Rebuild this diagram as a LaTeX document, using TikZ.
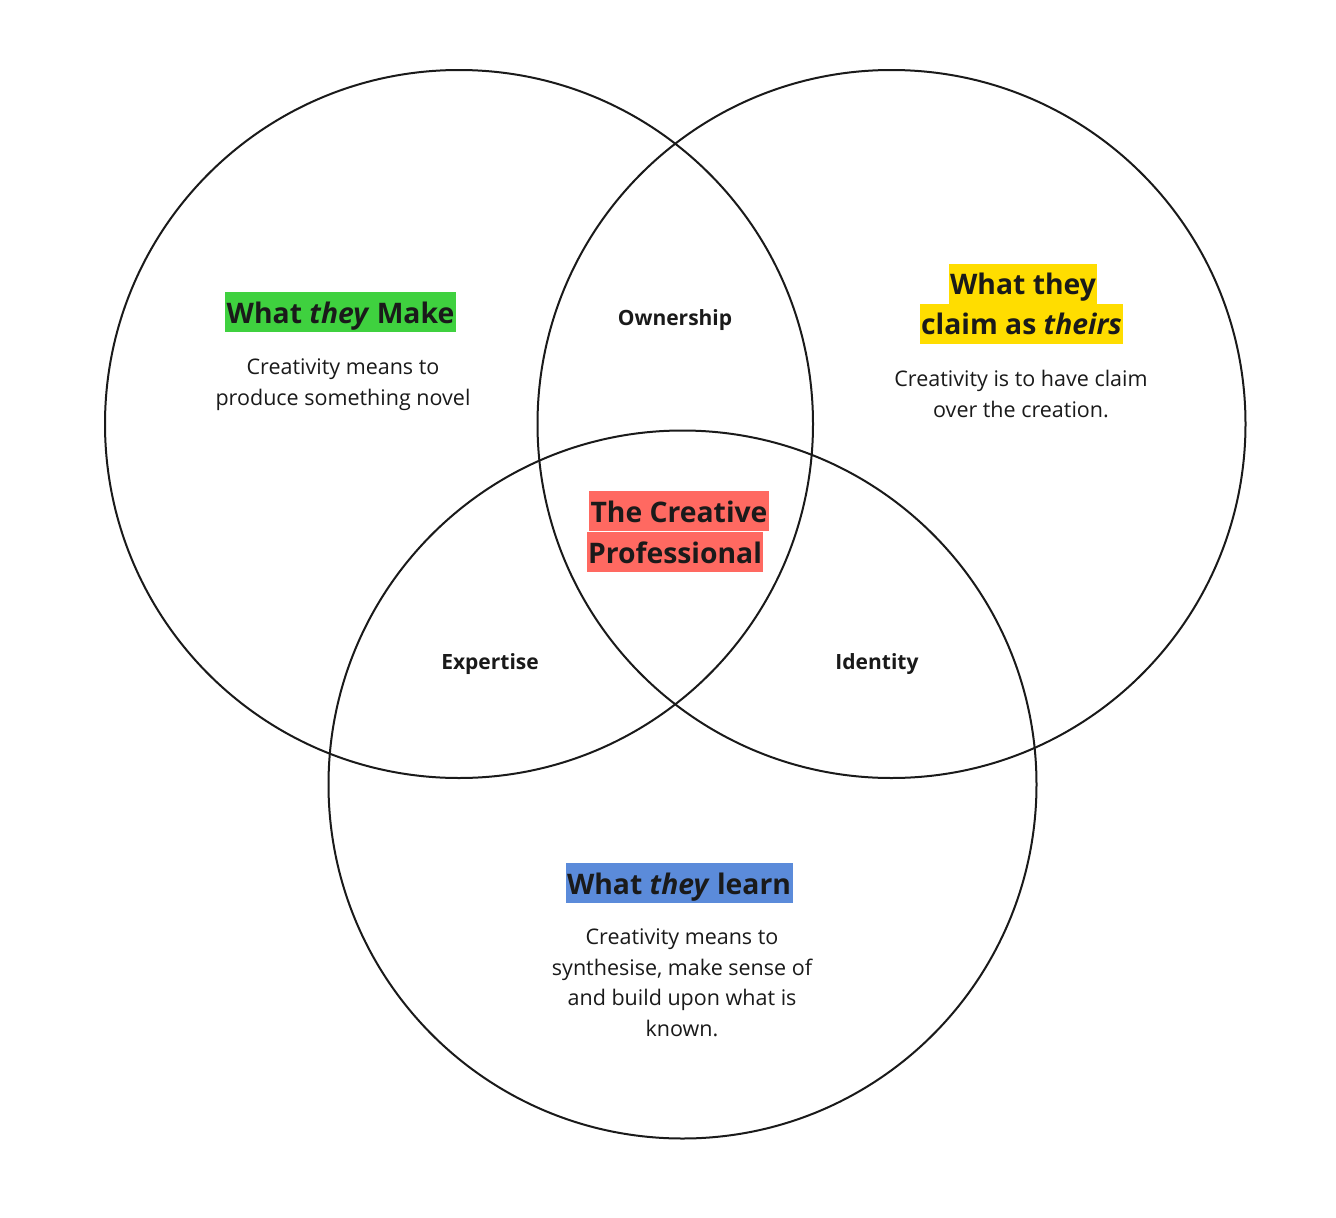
\documentclass[tikz,border=0pt]{standalone}
\usepackage{fontspec}
\setmainfont{Open Sans}
\definecolor{ink}{HTML}{1A1A1A}
\definecolor{hlgreen}{HTML}{3FD13F}
\definecolor{hlyellow}{HTML}{FFDD00}
\definecolor{hlred}{HTML}{FF6961}
\definecolor{hlblue}{HTML}{5B8BDA}
\begin{document}
\begin{tikzpicture}[x=1pt,y=-1pt,
  ring/.style={draw=ink,line width=2pt,fill=none},
  head/.style={text=ink,inner xsep=1.5pt,inner ysep=0pt,minimum height=40pt,
    text height=25pt,text depth=3pt,font=\fontsize{28.3}{36}\selectfont\bfseries},
  body/.style={text=ink,align=center,font=\fontsize{21.5}{30.5}\selectfont},
  small/.style={text=ink,font=\fontsize{21}{24}\selectfont\bfseries}]
\useasboundingbox (0,0) rectangle (1336,1218);
\fill[white] (0,0) rectangle (1336,1218);
% circles
\node[ring,circle,minimum size=708pt,inner sep=0pt] (cmake) at (459,424) {};
\node[ring,circle,minimum size=708pt,inner sep=0pt] (cclaim) at (891.5,424) {};
\node[ring,circle,minimum size=708pt,inner sep=0pt] (clearn) at (682.5,784.5) {};
% headings
\node[head,fill=hlgreen] (hmake) at (340.5,312) {What \textit{they} Make};
\node[head,fill=hlyellow] (hclaim1) at (1023,283.5) {What they\ };
\node[head,fill=hlyellow] (hclaim2) at (1021.5,323.5) {claim as \textit{theirs}};
\node[head,fill=hlred] (hcp1) at (679,511) {The Creative\ };
\node[head,fill=hlred] (hcp2) at (675,552) {Professional};
\node[head,fill=hlblue] (hlearn) at (679,883) {What \textit{they} learn};
% bodies
\node[body] (bmake) at (343,384.5) {Creativity means to\\produce something novel};
\node[body] (bclaim) at (1021,394) {Creativity is to have claim\\over the creation.};
\node[body] (blearn) at (682,983) {Creativity means to\\synthesise, make sense of\\and build upon what is\\known.};
% overlaps
\node[small] (own) at (675,320) {Ownership};
\node[small] (exp) at (490,664) {Expertise};
\node[small] (ide) at (877,664) {Identity};
\end{tikzpicture}
\end{document}
